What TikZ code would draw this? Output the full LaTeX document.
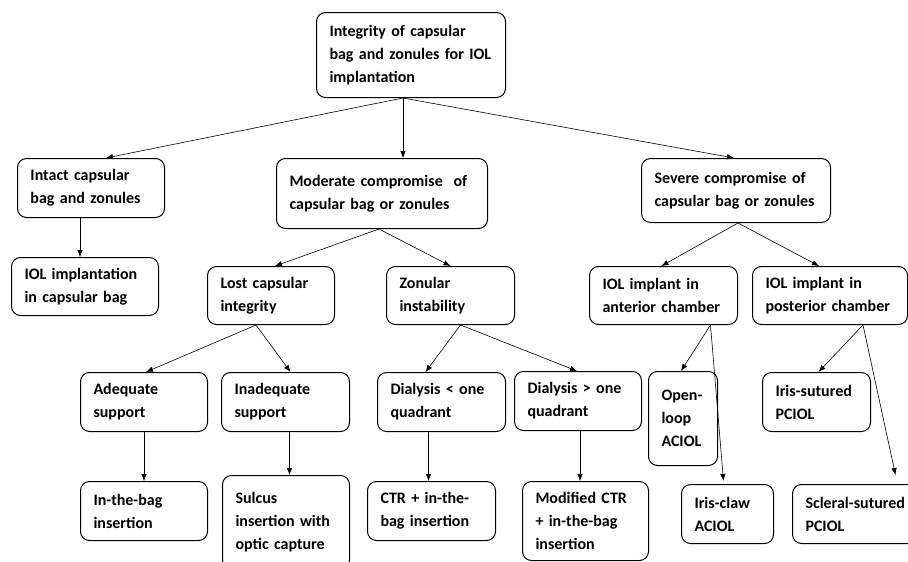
\documentclass[tikz,border=0pt]{standalone}
\usepackage{fontspec}
\setmainfont{Carlito}
\usetikzlibrary{arrows.meta}
\tikzset{
  caja/.style={draw, rounded corners=9pt, line width=1pt, anchor=north west, align=left,
    inner xsep=13pt, inner ysep=2pt, font=\fontsize{16}{23}\selectfont\bfseries}
}
\begin{document}
\begin{tikzpicture}[x=1pt, y=-1pt, ->, >={Latex[length=7pt, width=5.5pt]}, line width=0.6pt]
\useasboundingbox (0,0) rectangle (908,562);
\clip (0,0) rectangle (908,562);
% Nodos
\node [caja, text width=163pt, minimum height=85pt] (raiz) at (316,12) {Integrity of capsular\\bag and zonules for IOL\\implantation};
\node [caja, text width=121pt, minimum height=59pt] (intacta) at (17,158) {Intact capsular\\bag and zonules};
\node [caja, text width=185pt, minimum height=70pt] (moderada) at (276,158) {Moderate compromise\ \ of\\capsular bag or zonules};
\node [caja, text width=163pt, minimum height=64pt] (severa) at (641,158) {Severe compromise of\\capsular bag or zonules};
\node [caja, text width=121pt, minimum height=58pt] (implantacion) at (11,257) {IOL implantation\\in capsular bag};
\node [caja, text width=101pt, minimum height=58pt] (perdida) at (207,266) {Lost capsular\\integrity};
\node [caja, text width=102pt, minimum height=58pt] (zonular) at (386,266) {Zonular\\instability};
\node [caja, text width=122pt, minimum height=58pt] (anterior) at (589,266) {IOL implant in\\anterior chamber};
\node [caja, text width=129pt, minimum height=58pt] (posterior) at (752,266) {IOL implant in\\posterior chamber};
\node [caja, text width=101pt, minimum height=59pt] (adecuado) at (80,372) {Adequate\\support};
\node [caja, text width=102pt, minimum height=59pt] (inadecuado) at (221,372) {Inadequate\\support};
\node [caja, text width=102pt, minimum height=59pt] (dialmenor) at (377,372) {Dialysis < one\\quadrant};
\node [caja, text width=101pt, minimum height=59pt] (dialmayor) at (514,371) {Dialysis > one\\quadrant};
\node [caja, text width=43pt, minimum height=94pt] (abierta) at (648,371) {Open-\\loop\\ACIOL};
\node [caja, text width=82pt, minimum height=59pt] (irissut) at (762,372) {Iris-sutured\\PCIOL};
\node [caja, text width=101pt, minimum height=59pt] (enbolsa) at (80,481) {In-the-bag\\insertion};
\node [caja, text width=101pt, minimum height=94pt] (sulcus) at (222,475) {Sulcus\\insertion with\\optic capture};
\node [caja, text width=102pt, minimum height=59pt] (ctr) at (367,481) {CTR + in-the-\\bag insertion};
\node [caja, text width=100pt, minimum height=79pt] (ctrmod) at (522,481) {Modified CTR\\+ in-the-bag\\insertion};
\node [caja, text width=66pt, minimum height=59pt] (irisgarra) at (681,484) {Iris-claw\\ACIOL};
\node [caja, text width=110pt, minimum height=59pt] (escleral) at (792,484) {\mbox{Scleral-sutured}\\PCIOL};
% Ejes
\path ([xshift=-8pt]raiz.south) edge ([xshift=15pt]intacta.north);
\path ([xshift=-8pt]raiz.south) edge ([xshift=-8pt]raiz.south |- moderada.north);
\path ([xshift=-8pt]raiz.south) edge ([xshift=-2pt]severa.north);
\path ([xshift=-11pt]intacta.south) edge ([xshift=-11pt]intacta.south |- implantacion.north);
% moderada
\path ([xshift=-3pt]moderada.south) edge ([xshift=4pt]perdida.north);
\path ([xshift=-3pt]moderada.south) edge (zonular.north);
\path ([xshift=-15pt]perdida.south) edge ([xshift=2pt]adecuado.north);
\path ([xshift=-15pt]perdida.south) edge ([xshift=5pt]inadecuado.north);
\path ([xshift=10pt]zonular.south) edge ([xshift=-16pt]dialmenor.north);
\path ([xshift=10pt]zonular.south) edge ([xshift=-1pt]dialmayor.north);
\path (adecuado.south) edge (enbolsa.north);
\path ([xshift=4pt]inadecuado.south) edge ([xshift=4pt]inadecuado.south |- sulcus.north);
\path ([xshift=-13pt]dialmenor.south) edge ([xshift=-13pt]dialmenor.south |- ctr.north);
\path ([xshift=2pt]dialmayor.south) edge ([xshift=2pt]dialmayor.south |- ctrmod.north);
% severa
\path ([xshift=2pt]severa.south) edge ([xshift=-2pt]anterior.north);
\path ([xshift=2pt]severa.south) edge ([xshift=-11pt]posterior.north);
\path ([xshift=47pt]anterior.south) edge ([xshift=-2pt]abierta.north);
\path ([xshift=47pt]anterior.south) edge ([xshift=-4pt, yshift=3pt]irisgarra.north);
\path ([xshift=33pt]posterior.south) edge ([xshift=2pt]irissut.north);
\path ([xshift=33pt]posterior.south) edge ([xshift=35pt, yshift=9pt]escleral.north);
\end{tikzpicture}
\end{document}
